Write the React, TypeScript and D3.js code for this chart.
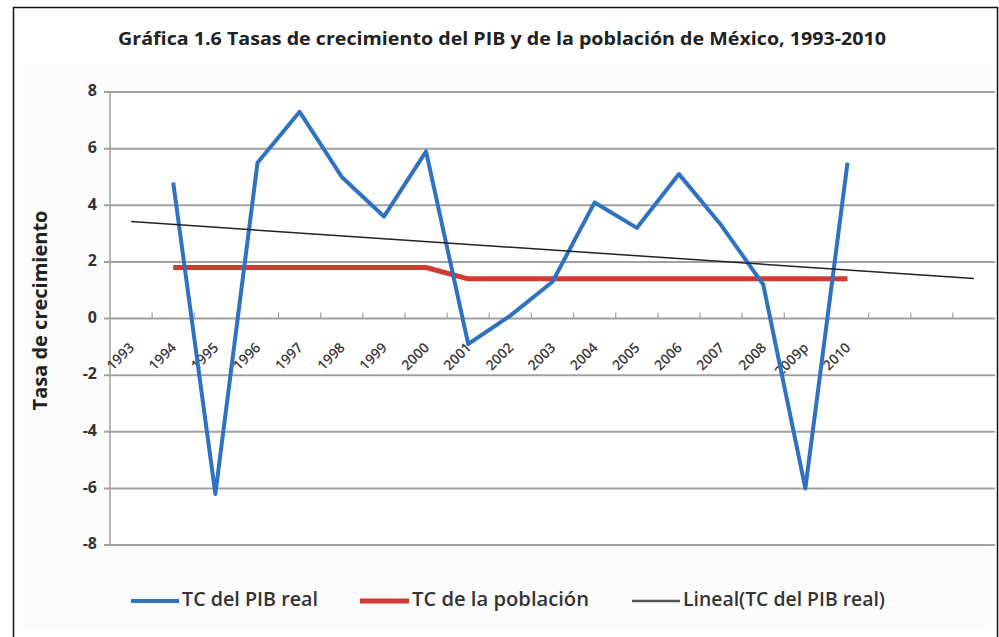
import React from 'react'
import * as d3 from 'd3'

// categorias del eje x (1993 sin dato) + 3 periodos de pronostico de la tendencia
const years = ['1993', '1994', '1995', '1996', '1997', '1998', '1999', '2000', '2001', '2002',
  '2003', '2004', '2005', '2006', '2007', '2008', '2009p', '2010']
const forecastPeriods = 3

const pibReal = [null, 4.8, -6.2, 5.5, 7.3, 5.0, 3.6, 5.9, -0.9, 0.1,
  1.3, 4.1, 3.2, 5.1, 3.3, 1.2, -6.0, 5.5]
const poblacion = [null, 1.8, 1.8, 1.8, 1.8, 1.8, 1.8, 1.8, 1.4, 1.4,
  1.4, 1.4, 1.4, 1.4, 1.4, 1.4, 1.4, 1.4]

const yTicks = [8, 6, 4, 2, 0, -2, -4, -6, -8]

const title = 'Gráfica 1.6 Tasas de crecimiento del PIB y de la población de México, 1993-2010'
const yTitle = 'Tasa de crecimiento'
const legendLabels = ['TC del PIB real', 'TC de la población', 'Lineal(TC del PIB real)']

const W = 999
const H = 637
const font = '"Open Sans", "Noto Sans", sans-serif'
const BLUE = '#2f72c2'
const RED = '#cf3a32'
const GRID = '#a0a0a0'

// tendencia lineal (minimos cuadrados) como la de Excel
const linearTrend = (vals) => {
  const pts = vals.map((v, i) => [i + 1, v]).filter(p => p[1] != null)
  const mx = d3.mean(pts, p => p[0])
  const my = d3.mean(pts, p => p[1])
  const sxy = d3.sum(pts, p => (p[0] - mx) * (p[1] - my))
  const sxx = d3.sum(pts, p => (p[0] - mx) ** 2)
  const b = sxy / sxx
  return x => my + b * (x - mx)
}

export default function App() {
  const slots = d3.range(years.length + forecastPeriods)
  const x = d3.scaleBand().domain(slots).range([110, 995])
  const y = d3.scaleLinear().domain([-8, 8]).range([545, 92])
  const cx = i => x(i) + x.bandwidth() / 2

  const line = d3.line()
    .defined(d => d != null)
    .x((d, i) => cx(i))
    .y(d => y(d))

  const trend = linearTrend(pibReal)
  const tStart = 0
  const tEnd = slots.length - 1

  const legend = [
    { label: legendLabels[0], color: BLUE, w: 4, x1: 131, x2: 179, tl: 136 },
    { label: legendLabels[1], color: RED, w: 5, x1: 360, x2: 409, tl: 177 },
    { label: legendLabels[2], color: '#555', w: 2.5, x1: 632, x2: 680, tl: 202 },
  ]

  return (
    <svg width={W} height={H} style={{ position: 'absolute', left: 0, top: 0, background: '#fff' }}>
      <rect x={13.5} y={7.5} width={984} height={650} fill="none" stroke="#111" strokeWidth={1.5} />
      <rect x={22} y={64} width={968} height={565} fill="#fbfbfb" />

      <text x={502} y={40} textAnchor="middle" dominantBaseline="middle" fontFamily={font}
        fontWeight="bold" fontSize={18} fill="#222" textLength={768} lengthAdjust="spacingAndGlyphs">
        {title}
      </text>

      {/* rejilla */}
      <rect x={110} y={y(8)} width={885} height={y(-8) - y(8)} fill="#fff" />
      {yTicks.map(t => (
        <g key={t}>
          <line x1={104} x2={995} y1={y(t)} y2={y(t)} stroke={GRID} strokeWidth={2} />
          <text x={97} y={y(t)} textAnchor="end" dominantBaseline="middle" fontFamily={font}
            fontSize={16} fontWeight={700} fill="#333">{t}</text>
        </g>
      ))}
      <line x1={110} x2={110} y1={y(8)} y2={y(-8)} stroke={GRID} strokeWidth={1.5} />
      {slots.slice(1).map(i => (
        <line key={i} x1={x(i)} x2={x(i)} y1={y(0) - 6} y2={y(0)} stroke={GRID} strokeWidth={1.2} />
      ))}

      {years.map((yr, i) => (
        <text key={yr} transform={`translate(${cx(i) + 4},${y(0) + 30}) rotate(-45)`}
          textAnchor="end" fontFamily={font} fontSize={14} fontWeight={600} fill="#3a3a3a">{yr}</text>
      ))}

      <text transform={`translate(42,${y(0) - 8}) rotate(-90)`} textAnchor="middle" dominantBaseline="middle"
        fontFamily={font} fontWeight="bold" fontSize={20} fill="#222">{yTitle}</text>

      {/* series */}
      <path d={line(poblacion)} fill="none" stroke={RED} strokeWidth={5} strokeLinejoin="round" />
      <path d={line(pibReal)} fill="none" stroke={BLUE} strokeWidth={4} strokeLinejoin="round" />
      <line x1={cx(tStart)} x2={cx(tEnd)} y1={y(trend(tStart + 1))} y2={y(trend(tEnd + 1))}
        stroke="#222" strokeWidth={1.5} />

      {/* leyenda */}
      {legend.map(l => (
        <g key={l.label}>
          <line x1={l.x1} x2={l.x2} y1={601} y2={601} stroke={l.color} strokeWidth={l.w} />
          <text x={l.x2 + 3} y={601} dominantBaseline="middle" fontFamily={font} fontSize={20} fontWeight={600}
            fill="#333" textLength={l.tl} lengthAdjust="spacingAndGlyphs">{l.label}</text>
        </g>
      ))}
    </svg>
  )
}
